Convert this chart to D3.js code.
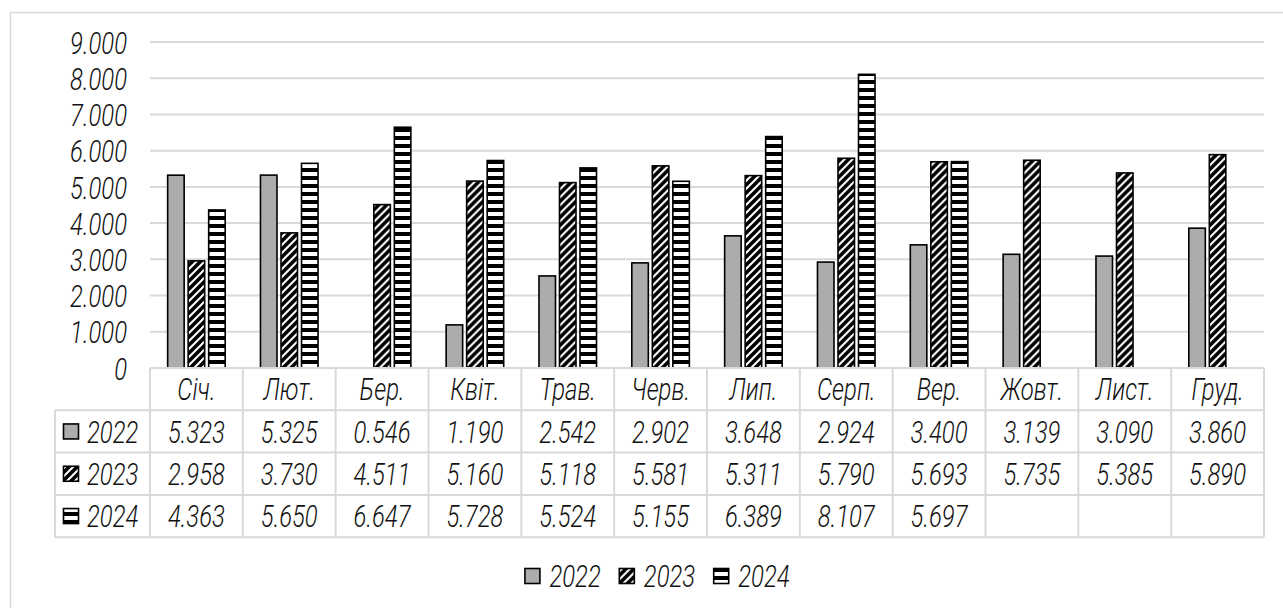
<!DOCTYPE html>
<html><head><meta charset="utf-8">
<script src="https://cdn.jsdelivr.net/npm/d3@7"></script>
<style>
body{margin:0;background:#fff}
svg text{font-family:"Roboto",sans-serif;font-weight:300;font-style:italic;font-size:31px;fill:#111}
</style></head>
<body><svg id="chart" width="1283" height="608"></svg>
<script>
// Monthly figures by year
const months = ["Січ.","Лют.","Бер.","Квіт.","Трав.","Черв.","Лип.","Серп.","Вер.","Жовт.","Лист.","Груд."];
const years = ["2022","2023","2024"];
const values2022 = [5323,5325,0.546,1190,2542,2902,3648,2924,3400,3139,3090,3860];
const values2023 = [2958,3730,4511,5160,5118,5581,5311,5790,5693,5735,5385,5890];
const values2024 = [4363,5650,6647,5728,5524,5155,6389,8107,5697,null,null,null];
const yTicks = [0,1000,2000,3000,4000,5000,6000,7000,8000,9000];

const series = [values2022, values2023, values2024];

const svg = d3.select("#chart");

// layout
const plot = {left:150, right:1264, top:42, bottom:368};
const rowH = 42.3;
const rowHeadLeft = 55;
const condense = 0.77;

const locale = d3.formatLocale({decimal:",", thousands:".", grouping:[3], currency:["",""]});
const fmtInt = locale.format(",.0f");
const fmt = v => v == null ? "" : (v > 0 && v < 1 ? d3.format(".3f")(v) : fmtInt(v));

const x = d3.scaleBand().domain(months).range([plot.left, plot.right]).padding(0);
const xs = d3.scaleBand().domain(years).range([0, x.bandwidth()]).paddingInner(0.195).paddingOuter(0.86);
const y = d3.scaleLinear().domain([0, 9000]).range([plot.bottom, plot.top]);

// fill patterns
const defs = svg.append("defs");
const pDiag = defs.append("pattern").attr("id","diag").attr("patternUnits","userSpaceOnUse")
  .attr("width",8).attr("height",8);
pDiag.append("rect").attr("width",8).attr("height",8).attr("fill","#fff");
pDiag.append("path").attr("d","M-2,10 L10,-2 M-6,6 L6,-6 M2,14 L14,2")
  .attr("stroke","#000").attr("stroke-width",3.6);
const pHor = defs.append("pattern").attr("id","hor").attr("patternUnits","userSpaceOnUse")
  .attr("width",8).attr("height",8);
pHor.append("rect").attr("width",8).attr("height",8).attr("fill","#fff");
pHor.append("rect").attr("width",8).attr("height",4).attr("fill","#000");

const fills = ["#aeabab", "url(#diag)", "url(#hor)"];

// chart frame
svg.append("rect").attr("x",10.5).attr("y",12.5).attr("width",1300).attr("height",640)
  .attr("fill","none").attr("stroke","#d9d9d9").attr("stroke-width",1.5);

// gridlines
svg.append("g").selectAll("line").data(yTicks.slice(1)).join("line")
  .attr("x1",plot.left).attr("x2",plot.right)
  .attr("y1",d=>y(d)).attr("y2",d=>y(d))
  .attr("stroke","#d9d9d9").attr("stroke-width",2);

// y axis labels
const yAxis = d3.axisLeft(y).tickValues(yTicks).tickFormat(fmt).tickSize(0).tickPadding(0);
const gy = svg.append("g").attr("transform","translate(127,0)").call(yAxis);
gy.select(".domain").remove();
gy.selectAll("text").attr("font-family",null).attr("font-size",null).attr("fill",null)
  .attr("dy","0.36em");

// bars
const groups = svg.append("g").selectAll("g").data(months).join("g")
  .attr("transform",d=>`translate(${x(d)},0)`);
groups.selectAll("rect").data((m,i)=>series.map((s,k)=>({year:years[k], v:s[i], k})).filter(d=>d.v!=null))
  .join("rect")
  .attr("x",d=>xs(d.year)).attr("width",xs.bandwidth())
  .attr("y",d=>y(d.v)).attr("height",d=>y(0)-y(d.v))
  .attr("fill",d=>fills[d.k]).attr("stroke","#000").attr("stroke-width",1.6);

// data table
const tbl = svg.append("g");
const tableBottom = plot.bottom + rowH*4;
const gridC = "#d9d9d9";
tbl.append("line").attr("x1",plot.left).attr("x2",plot.right).attr("y1",plot.bottom).attr("y2",plot.bottom)
  .attr("stroke",gridC).attr("stroke-width",2);
d3.range(1,5).forEach(r=>{
  tbl.append("line").attr("x1",rowHeadLeft).attr("x2",plot.right)
    .attr("y1",plot.bottom+rowH*r).attr("y2",plot.bottom+rowH*r)
    .attr("stroke",gridC).attr("stroke-width",2);
});
tbl.selectAll("line.v").data(months.concat(["end"])).join("line").attr("class","v")
  .attr("x1",(d,i)=>plot.left + x.step()*i).attr("x2",(d,i)=>plot.left + x.step()*i)
  .attr("y1",plot.bottom).attr("y2",tableBottom)
  .attr("stroke",gridC).attr("stroke-width",2);
tbl.append("line").attr("x1",rowHeadLeft).attr("x2",rowHeadLeft)
  .attr("y1",plot.bottom+rowH).attr("y2",tableBottom).attr("stroke",gridC).attr("stroke-width",2);

// month header
tbl.selectAll("text.m").data(months).join("text").attr("class","m")
  .attr("x",d=>x(d)+x.bandwidth()/2).attr("y",plot.bottom+rowH/2).attr("dy","0.36em")
  .attr("text-anchor","middle").text(d=>d);

// value rows
series.forEach((s,k)=>{
  const cy = plot.bottom + rowH*(k+1) + rowH/2;
  tbl.selectAll(null).data(s).join("text")
    .attr("x",(d,i)=>x(months[i])+x.bandwidth()/2).attr("y",cy).attr("dy","0.36em")
    .attr("text-anchor","middle").text(d=>fmt(d));
  tbl.append("rect").attr("x",63.5).attr("y",cy-7.5).attr("width",15).attr("height",15)
    .attr("fill",fills[k]).attr("stroke","#000").attr("stroke-width",1.6);
  tbl.append("text").attr("class","rowhead").attr("x",87).attr("y",cy).attr("dy","0.36em").text(years[k]);
});

// legend
const leg = svg.append("g");
const legItems = leg.selectAll("g").data(years).join("g");
legItems.append("rect").attr("x",0.5).attr("y",-7.5).attr("width",15).attr("height",15)
  .attr("fill",(d,i)=>fills[i]).attr("stroke","#000").attr("stroke-width",1.6);
legItems.append("text").attr("x",25).attr("dy","0.36em").text(d=>d);

// narrow every label to mimic a condensed drafting face
svg.selectAll("text").each(function(){
  const w = this.getComputedTextLength();
  this.__w = w*condense;
  d3.select(this).attr("textLength",w*condense).attr("lengthAdjust","spacingAndGlyphs");
});

// centre legend under the frame
const legCenter = 657, legY = 576, legGap = 18;
let widths = [];
legItems.each(function(){ widths.push(25 + d3.select(this).select("text").node().__w); });
const total = d3.sum(widths) + legGap*(widths.length-1);
let cx = legCenter - total/2;
legItems.each(function(d,i){
  d3.select(this).attr("transform",`translate(${cx},${legY})`);
  cx += widths[i] + legGap;
});
</script></body></html>
